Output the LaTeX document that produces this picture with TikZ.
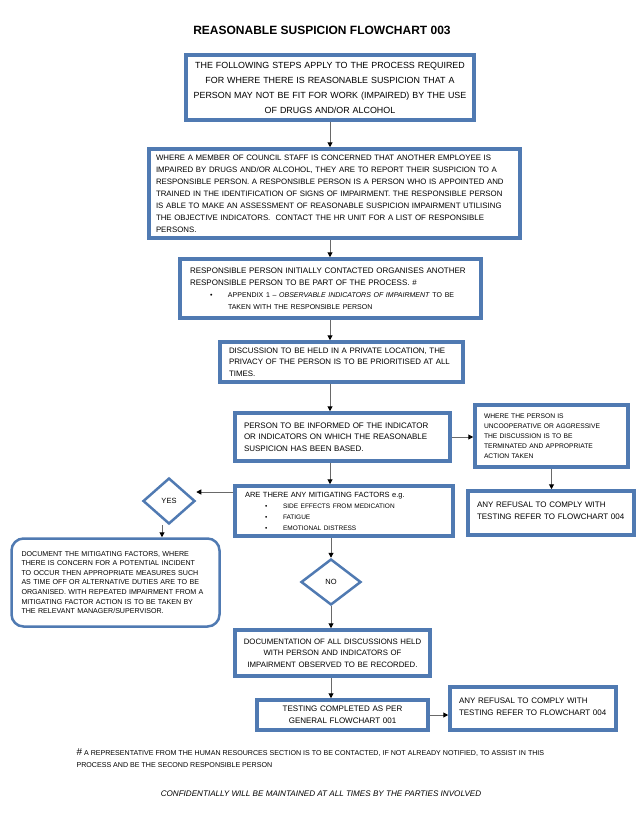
\documentclass[tikz,border=0pt]{standalone}
\usepackage{fontspec}
\setmainfont{Liberation Sans}
\usetikzlibrary{shapes.geometric,arrows.meta}

\definecolor{boxblue}{RGB}{80,122,178}
\definecolor{linegrey}{RGB}{105,105,105}

\begin{document}
\begin{tikzpicture}[x=1pt,y=-1pt,
		stepbox/.style={draw=boxblue, line width=3.5pt, inner xsep=9pt, inner ysep=0pt, align=left},
		docbox/.style={draw=boxblue, line width=2.5pt, rounded corners=12pt, inner xsep=10pt, inner ysep=0pt, align=left},
		decision/.style={diamond, draw=boxblue, line width=2.5pt, inner sep=0pt, font=\fontsize{7.5}{9}\selectfont},
		flow/.style={draw=linegrey, line width=1pt, -{Triangle[length=5pt,width=5pt,black]}}]
	\useasboundingbox (0,0) rectangle (644,824);
	\node[font=\bfseries\fontsize{12}{14}\selectfont] (title) at (322,30) {REASONABLE SUSPICION FLOWCHART 003};
	\node[stepbox, align=center, inner xsep=2pt, minimum width=288pt, minimum height=65pt, text width=284pt,
		font=\fontsize{8.9}{15}\selectfont] (intro) at (330,87.5)
		{ THE FOLLOWING STEPS APPLY TO THE PROCESS REQUIRED\\ FOR WHERE THERE IS REASONABLE SUSPICION THAT A\\
		  PERSON MAY NOT BE FIT FOR WORK (IMPAIRED) BY THE USE\\ OF DRUGS AND/OR ALCOHOL };
	\node[stepbox, inner xsep=7pt, minimum width=371pt, minimum height=89pt, text width=357pt,
		font=\fontsize{7.85}{12}\selectfont] (report) at (334.5,193.5)
		{ WHERE A MEMBER OF COUNCIL STAFF IS CONCERNED THAT ANOTHER EMPLOYEE IS\\
		  IMPAIRED BY DRUGS AND/OR ALCOHOL, THEY ARE TO REPORT THEIR SUSPICION TO A\\
		  RESPONSIBLE PERSON. A RESPONSIBLE PERSON IS A PERSON WHO IS APPOINTED AND\\
		  TRAINED IN THE IDENTIFICATION OF SIGNS OF IMPAIRMENT. THE RESPONSIBLE PERSON\\
		  IS ABLE TO MAKE AN ASSESSMENT OF REASONABLE SUSPICION IMPAIRMENT UTILISING\\
		  THE OBJECTIVE INDICATORS.\ \ CONTACT THE HR UNIT FOR A LIST OF RESPONSIBLE\\
		  PERSONS. };
	\node[stepbox, inner xsep=10pt, minimum width=301pt, minimum height=59pt, text width=281pt,
		font=\fontsize{8}{12}\selectfont] (second) at (330.5,288.5)
		{ RESPONSIBLE PERSON INITIALLY CONTACTED ORGANISES ANOTHER\\
		  RESPONSIBLE PERSON TO BE PART OF THE PROCESS. \#\\
		  {\fontsize{7}{12}\selectfont\hspace*{20pt}\makebox[18pt][l]{\textbullet}APPENDIX 1 -- \textit{OBSERVABLE INDICATORS OF IMPAIRMENT} TO BE}\\
		  {\fontsize{7}{12}\selectfont\hspace*{38pt}TAKEN WITH THE RESPONSIBLE PERSON} };
	\node[stepbox, minimum width=243pt, minimum height=40pt, text width=225pt,
		font=\fontsize{7.9}{11.5}\selectfont] (private) at (341.5,362)
		{ DISCUSSION TO BE HELD IN A PRIVATE LOCATION, THE\\
		  PRIVACY OF THE PERSON IS TO BE PRIORITISED AT ALL\\ TIMES. };
	\node[stepbox, minimum width=215pt, minimum height=48pt, text width=197pt,
		font=\fontsize{8}{11.7}\selectfont] (inform) at (342.5,437)
		{ PERSON TO BE INFORMED OF THE INDICATOR\\ OR INDICATORS ON WHICH THE REASONABLE\\
		  SUSPICION HAS BEEN BASED. };
	\node[stepbox, minimum width=153pt, minimum height=62pt, text width=135pt,
		font=\fontsize{6.7}{10}\selectfont] (uncoop) at (551.5,436)
		{ WHERE THE PERSON IS\\ UNCOOPERATIVE OR AGGRESSIVE\\ THE DISCUSSION IS TO BE\\
		  TERMINATED AND APPROPRIATE\\ ACTION TAKEN };
	\node[stepbox, minimum width=166pt, minimum height=44pt, text width=148pt, text depth=17pt,
		font=\fontsize{8}{12}\selectfont] (refusea) at (551,513)
		{ ANY REFUSAL TO COMPLY WITH\\ TESTING REFER TO FLOWCHART 004 };
	\node[stepbox, inner xsep=10pt, minimum width=218pt, minimum height=50pt, text width=198pt,
		font=\fontsize{7.5}{11}\selectfont] (mitig) at (344,511)
		{ ARE THERE ANY MITIGATING FACTORS e.g.\\
		  {\fontsize{6.5}{11}\selectfont\hspace*{20pt}\makebox[18pt][l]{\textbullet}SIDE EFFECTS FROM MEDICATION}\\
		  {\fontsize{6.5}{11}\selectfont\hspace*{20pt}\makebox[18pt][l]{\textbullet}FATIGUE}\\
		  {\fontsize{6.5}{11}\selectfont\hspace*{20pt}\makebox[18pt][l]{\textbullet}EMOTIONAL DISTRESS} };
	\node[decision, minimum width=52pt, minimum height=46pt] (yes) at (169,501) {YES};
	\node[docbox, minimum width=208pt, minimum height=88pt, text width=188pt,
		font=\fontsize{7.1}{9.6}\selectfont] (document) at (115.5,582.5)
		{ DOCUMENT THE MITIGATING FACTORS, WHERE\\ THERE IS CONCERN FOR A POTENTIAL INCIDENT\\
		  TO OCCUR THEN APPROPRIATE MEASURES SUCH\\ AS TIME OFF OR ALTERNATIVE DUTIES ARE TO BE\\
		  ORGANISED. WITH REPEATED IMPAIRMENT FROM A\\ MITIGATING FACTOR ACTION IS TO BE TAKEN BY\\
		  THE RELEVANT MANAGER/SUPERVISOR. };
	\node[decision, minimum width=60pt, minimum height=46pt] (no) at (331,582) {NO};
	\node[stepbox, align=center, inner xsep=3pt, minimum width=195pt, minimum height=46pt, text width=189pt,
		font=\fontsize{7.8}{11.5}\selectfont] (record) at (332.5,653)
		{ DOCUMENTATION OF ALL DISCUSSIONS HELD\\ WITH PERSON AND INDICATORS OF\\
		  IMPAIRMENT OBSERVED TO BE RECORDED. };
	\node[stepbox, align=center, inner xsep=3pt, minimum width=171pt, minimum height=30pt, text width=165pt,
		font=\fontsize{8}{12}\selectfont] (testing) at (342.5,715)
		{ TESTING COMPLETED AS PER\\ GENERAL FLOWCHART 001 };
	\node[stepbox, minimum width=166pt, minimum height=43pt, text width=148pt, text depth=16pt,
		font=\fontsize{8}{12}\selectfont] (refuseb) at (533,708.5)
		{ ANY REFUSAL TO COMPLY WITH\\ TESTING REFER TO FLOWCHART 004 };
	\node[anchor=north west, align=left, font=\fontsize{7.1}{12}\selectfont] (note) at (73,745)
		{ {\fontsize{10}{12}\selectfont\#} A REPRESENTATIVE FROM THE HUMAN RESOURCES SECTION IS TO BE CONTACTED, IF NOT ALREADY NOTIFIED, TO ASSIST IN THIS\\
		  PROCESS AND BE THE SECOND RESPONSIBLE PERSON };
	\node[font=\itshape\fontsize{8.1}{9}\selectfont] (confid) at (321,794)
		{CONFIDENTIALLY WILL BE MAINTAINED AT ALL TIMES BY THE PARTIES INVOLVED};
	\draw[flow] (intro.south) -- (intro.south |- report.north);
	\draw[flow] (report.south -| intro) -- (second.north -| intro);
	\draw[flow] (second.south -| intro) -- (private.north -| intro);
	\draw[flow] (private.south -| intro) -- (inform.north -| intro);
	\draw[flow] (inform.south -| intro) -- (mitig.north -| intro);
	\draw[flow] (inform.east) -- (inform.east -| uncoop.west);
	\draw[flow] (uncoop.south) -- (uncoop.south |- refusea.north);
	\draw[flow] ([yshift=19pt]mitig.west) -- ([yshift=19pt]mitig.west -| yes.east);
	\draw[flow] ([xshift=-7pt]yes.south) -- ([xshift=-7pt]yes.south |- document.north);
	\draw[flow] (mitig.south -| no) -- (no);
	\draw[flow] (no) -- (no |- record.north);
	\draw[flow] (no |- record.south) -- (no |- testing.north);
	\draw[flow] (testing.east) -- (testing.east -| refuseb.west);
\end{tikzpicture}
\end{document}
